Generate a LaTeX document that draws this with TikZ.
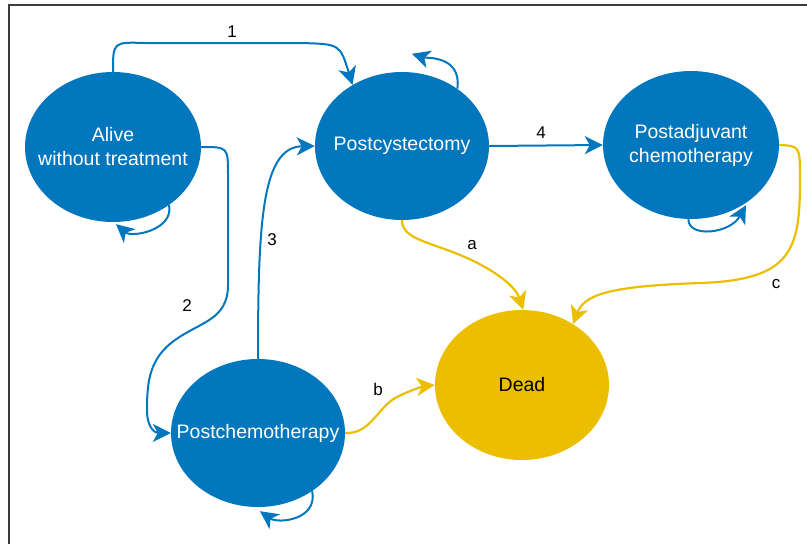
\documentclass[tikz,border=0pt]{standalone}
\usepackage{fontspec}
\setmainfont{Liberation Sans}
\usetikzlibrary{shapes.geometric,arrows.meta}
\definecolor{stblue}{RGB}{2,119,190}
\definecolor{styell}{RGB}{235,190,0}
\definecolor{frame}{RGB}{60,60,60}
\tikzset{
  state/.style={ellipse, fill=stblue, draw=none, inner sep=0pt},
  deadstate/.style={state, fill=styell},
  stxt/.style={text=white, align=center, inner sep=0pt, font=\fontsize{19.5}{24}\selectfont},
  dtxt/.style={stxt, text=black},
  lbl/.style={font=\fontsize{17}{20}\selectfont, text=black, inner sep=0pt},
  tip/.style={-{Stealth[length=18pt,width=18pt,inset=5pt]}},
  blueedge/.style={draw=stblue, line width=2pt, tip},
  yeledge/.style={draw=styell, line width=2.2pt, tip},
}
\begin{document}
\begin{tikzpicture}[x=1pt,y=-1pt]
\useasboundingbox (0,0) rectangle (807,544);
\draw[frame, line width=1.5pt] (9,544) -- (9,5) -- (807,5);

\node[state, minimum width=176pt, minimum height=150pt] (alive) at (113,147) {};
\node[state, minimum width=174pt, minimum height=148pt] (pc) at (402,146) {};
\node[state, minimum width=176pt, minimum height=148pt] (pa) at (691,145) {};
\node[state, minimum width=174pt, minimum height=148pt] (pcm) at (258,433) {};
\node[deadstate, minimum width=174pt, minimum height=150pt] (dead) at (522,385) {};

\node[stxt] (talive) at (alive.center) {Alive\\without treatment};
\node[stxt] (tpc) at (pc.center) {Postcystectomy};
\node[stxt] (tpa) at (pa.center) {Postadjuvant\\chemotherapy};
\node[stxt] (tpcm) at (pcm.center) {Postchemotherapy};
\node[dtxt] (tdead) at (dead.center) {Dead};

% edge 1
\draw[blueedge] (alive.north) .. controls (113,42) .. (145,43) -- (300,43) .. controls (340,44) .. (pc.129);
% edge 2
\draw[blueedge] (alive.east) .. controls (228,147) .. (228,175) -- (228,285)
   .. controls (228,320) and (200,322) .. (175,340)
   .. controls (150,358) and (147,380) .. (147,410)
   .. controls (147,428) and (155,433) .. (pcm.west);
% edge 3
\draw[blueedge] (pcm.north) .. controls (258,220) and (262,147) .. (pc.west);
% edge 4
\draw[blueedge] (pc.east) -- (pa.west);

% self loops
\draw[blueedge] (alive.-46) .. controls (174,230) and (132,238) .. ([xshift=3pt,yshift=-2pt]alive.south);
\draw[blueedge] (pc.46) .. controls (462,55) and (425,58) .. ([xshift=10pt,yshift=18pt]pc.north);
\draw[blueedge] (pcm.-47) .. controls (318,520) and (278,524) .. ([xshift=2pt,yshift=-4pt]pcm.south);
\draw[blueedge] (pa.-92) .. controls (688,238) and (730,234) .. ([xshift=55pt,yshift=14pt]pa.south);

% edges to dead
\draw[yeledge] (pc.south) .. controls (402,236) and (420,240) .. (450,251)
   .. controls (490,266) and (515,285) .. (dead.89);
\draw[yeledge] (pcm.east) .. controls (370,434) and (376,410) .. (395,398)
   .. controls (410,390) and (425,386) .. (dead.west);
\draw[yeledge] (pa.east) .. controls (800,146) .. (800,180)
   .. controls (800,250) and (792,280) .. (700,283)
   .. controls (620,286) and (585,292) .. (dead.50);

% labels
\node[lbl] (l1) at (232,32) {1};
\node[lbl] (l2) at (187,306) {2};
\node[lbl] (l3) at (272,240) {3};
\node[lbl] (l4) at (541,133) {4};
\node[lbl] (la) at (472,245) {a};
\node[lbl] (lb) at (378,389) {b};
\node[lbl] (lc) at (776,284) {c};
\end{tikzpicture}
\end{document}
